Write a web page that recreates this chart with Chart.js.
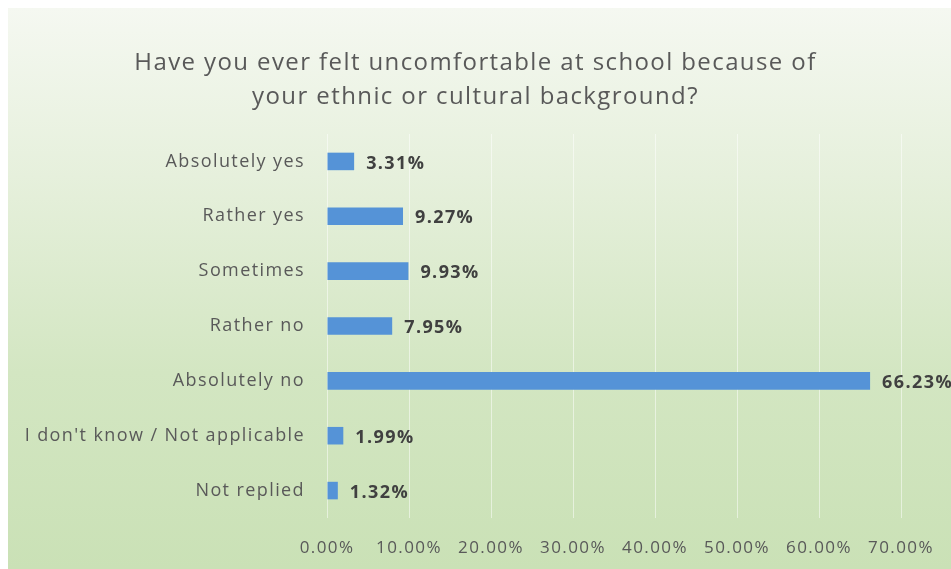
<!DOCTYPE html>
<html>
<head>
<meta charset="utf-8">
<script src="https://cdn.jsdelivr.net/npm/chart.js@4.4.1/dist/chart.umd.min.js"></script>
<style>
    html, body { margin: 0; padding: 0; background: #ffffff; }
    #wrap { position: relative; width: 951px; height: 569px; }
    #bg {
        position: absolute; left: 8px; top: 8px; right: 0; bottom: 0;
        background: linear-gradient(to bottom, #f5f8f1 0%, #e6f0dc 30%, #d3e6c2 65%, #cae1b6 100%);
    }
    #chart { position: absolute; left: 0; top: 0; }
</style>
</head>
<body>
<div id="wrap">
    <div id="bg"></div>
    <canvas id="chart" width="951" height="569"></canvas>
</div>
<script>
// Dados do gráfico
const categories = [
    'Absolutely yes',
    'Rather yes',
    'Sometimes',
    'Rather no',
    'Absolutely no',
    "I don't know / Not applicable",
    'Not replied'
];
const percentages = [3.31, 9.27, 9.93, 7.95, 66.23, 1.99, 1.32];
const xTicks = [0, 10, 20, 30, 40, 50, 60, 70];

const fontFamily = "'Open Sans', sans-serif";
const textColor = '#595959';

// Espaçamento de letras (o original é mais largo)
const letterSpacing = {
    id: 'letterSpacing',
    beforeDraw(chart) {
        chart.ctx.letterSpacing = '1.4px';
    }
};

// Rótulos de valor ao lado das barras
const valueLabels = {
    id: 'valueLabels',
    afterDatasetsDraw(chart) {
        const ctx = chart.ctx;
        const meta = chart.getDatasetMeta(0);
        ctx.save();
        ctx.letterSpacing = '1.4px';
        ctx.font = 'bold 18px ' + fontFamily;
        ctx.fillStyle = '#404040';
        ctx.textAlign = 'left';
        ctx.textBaseline = 'middle';
        meta.data.forEach((bar, i) => {
            ctx.fillText(percentages[i].toFixed(2) + '%', bar.x + 12, bar.y + 2);
        });
        ctx.restore();
    }
};

new Chart(document.getElementById('chart'), {
    type: 'bar',
    data: {
        labels: categories,
        datasets: [{
            data: percentages,
            backgroundColor: '#5593d7',
            categoryPercentage: 1,
            barPercentage: 0.32
        }]
    },
    options: {
        indexAxis: 'y',
        responsive: false,
        animation: false,
        layout: { padding: { top: 41, left: 8, right: 8, bottom: 0 } },
        plugins: {
            legend: { display: false },
            tooltip: { enabled: false },
            title: {
                display: true,
                text: ['Have you ever felt uncomfortable at school because of',
                       'your ethnic or cultural background?'],
                color: textColor,
                font: { family: fontFamily, size: 24, weight: 'normal', lineHeight: 34 / 24 },
                padding: { top: 5, bottom: 20 }
            }
        },
        scales: {
            x: {
                min: 0,
                max: 70,
                afterBuildTicks: axis => { axis.ticks = xTicks.map(v => ({ value: v })); },
                afterFit: axis => { axis.height = 51; },
                grid: { color: 'rgba(255,255,255,0.5)', lineWidth: 1, drawTicks: false },
                border: { display: false },
                ticks: {
                    color: textColor,
                    padding: 20,
                    font: { family: fontFamily, size: 17 },
                    callback: v => v.toFixed(2) + '%'
                }
            },
            y: {
                grid: { display: false, drawTicks: false },
                border: { display: false },
                afterFit: axis => { axis.width = 319; },
                ticks: {
                    color: textColor,
                    padding: 22,
                    font: { family: fontFamily, size: 18 }
                }
            },
            // eixo vazio à direita só para reservar espaço
            yRight: {
                type: 'category',
                position: 'right',
                grid: { display: false, drawTicks: false },
                border: { display: false },
                ticks: { display: false },
                afterFit: axis => { axis.width = 42; }
            }
        }
    },
    plugins: [letterSpacing, valueLabels]
});
</script>
</body>
</html>
